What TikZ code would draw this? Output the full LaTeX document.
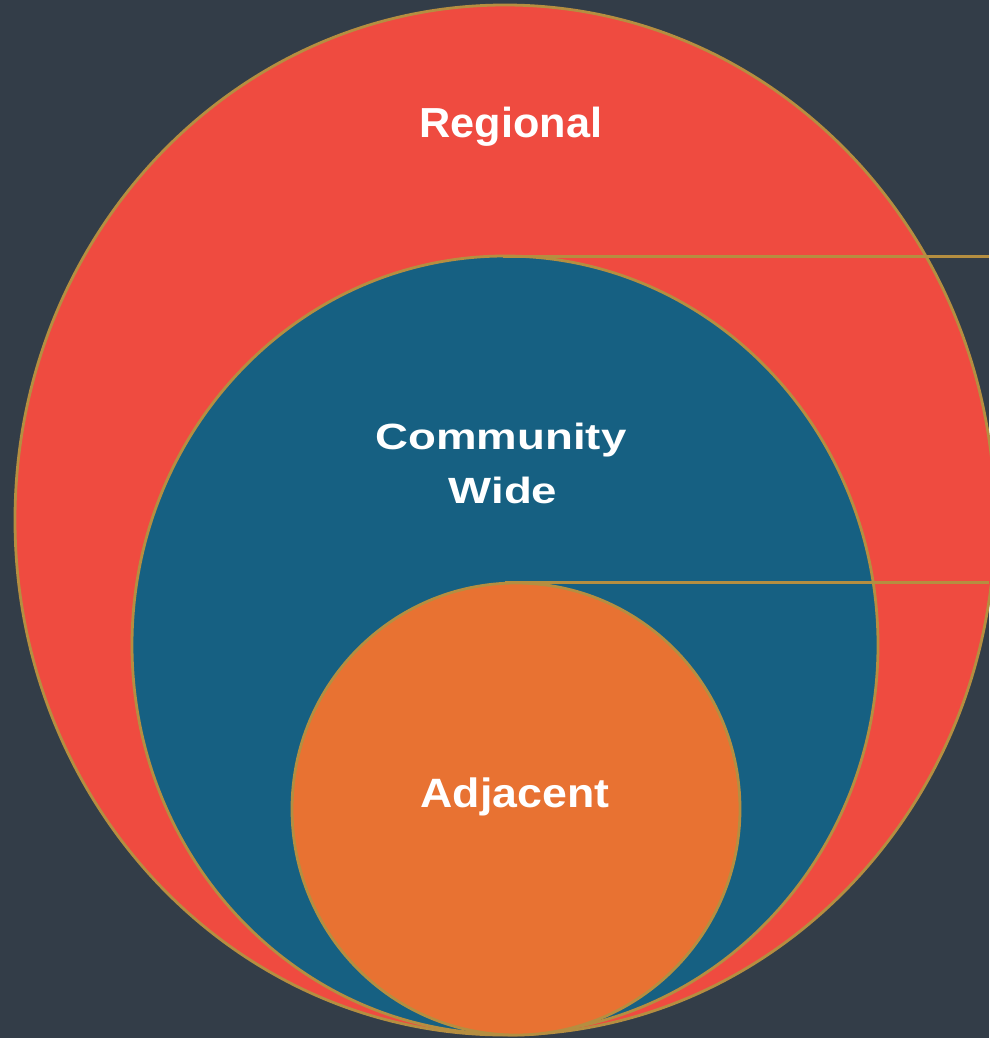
\documentclass[tikz,border=0pt]{standalone}
\usepackage{fontspec}
\usepackage{graphicx}
\setmainfont{Liberation Sans}
\usetikzlibrary{shapes.geometric}
\definecolor{bgc}{RGB}{51,61,72}
\definecolor{redc}{RGB}{239,75,64}
\definecolor{bluec}{RGB}{22,96,130}
\definecolor{orangec}{RGB}{232,114,50}
\definecolor{goldc}{RGB}{181,142,64}
\tikzset{
  ring/.style={ellipse, draw=goldc, line width=2.8pt, inner sep=0pt, outer sep=0pt},
  guide/.style={draw=goldc, line width=3pt},
  lbl/.style={text=white, inner sep=0pt, anchor=base, font=\bfseries}
}
\begin{document}
\begin{tikzpicture}[x=1pt,y=-1pt]
\fill[bgc] (0,0) rectangle (989,1038);
\useasboundingbox (0,0) rectangle (989,1038);
\node[ring, fill=redc, minimum width=980pt, minimum height=1030pt] (regional) at (505,520) {};
\node[ring, fill=bluec, minimum width=746pt, minimum height=778pt] (community) at (505,645) {};
\node[ring, fill=orangec, minimum width=448pt, minimum height=452pt] (adjacent) at (516,809) {};
\coordinate (s1) at (503,256);
\coordinate (e1) at (989,256);
\coordinate (s2) at (505,582);
\coordinate (e2) at (989,582);
\draw[guide] (s1) -- (e1);
\draw[guide] (s2) -- (e2);
\node[lbl] (tregional) at (511,137) {\fontsize{42}{50}\selectfont\scalebox{1.03}[1]{Regional}};
\node[lbl] (tcomm) at (501,449) {\fontsize{36.5}{44}\selectfont\scalebox{1.25}[1]{Community}};
\node[lbl] (twide) at (503,503) {\fontsize{36.5}{44}\selectfont\scalebox{1.25}[1]{Wide}};
\node[lbl] (tadj) at (515,807) {\fontsize{41}{48}\selectfont\scalebox{1.09}[1]{Adjacent}};
\end{tikzpicture}
\end{document}
